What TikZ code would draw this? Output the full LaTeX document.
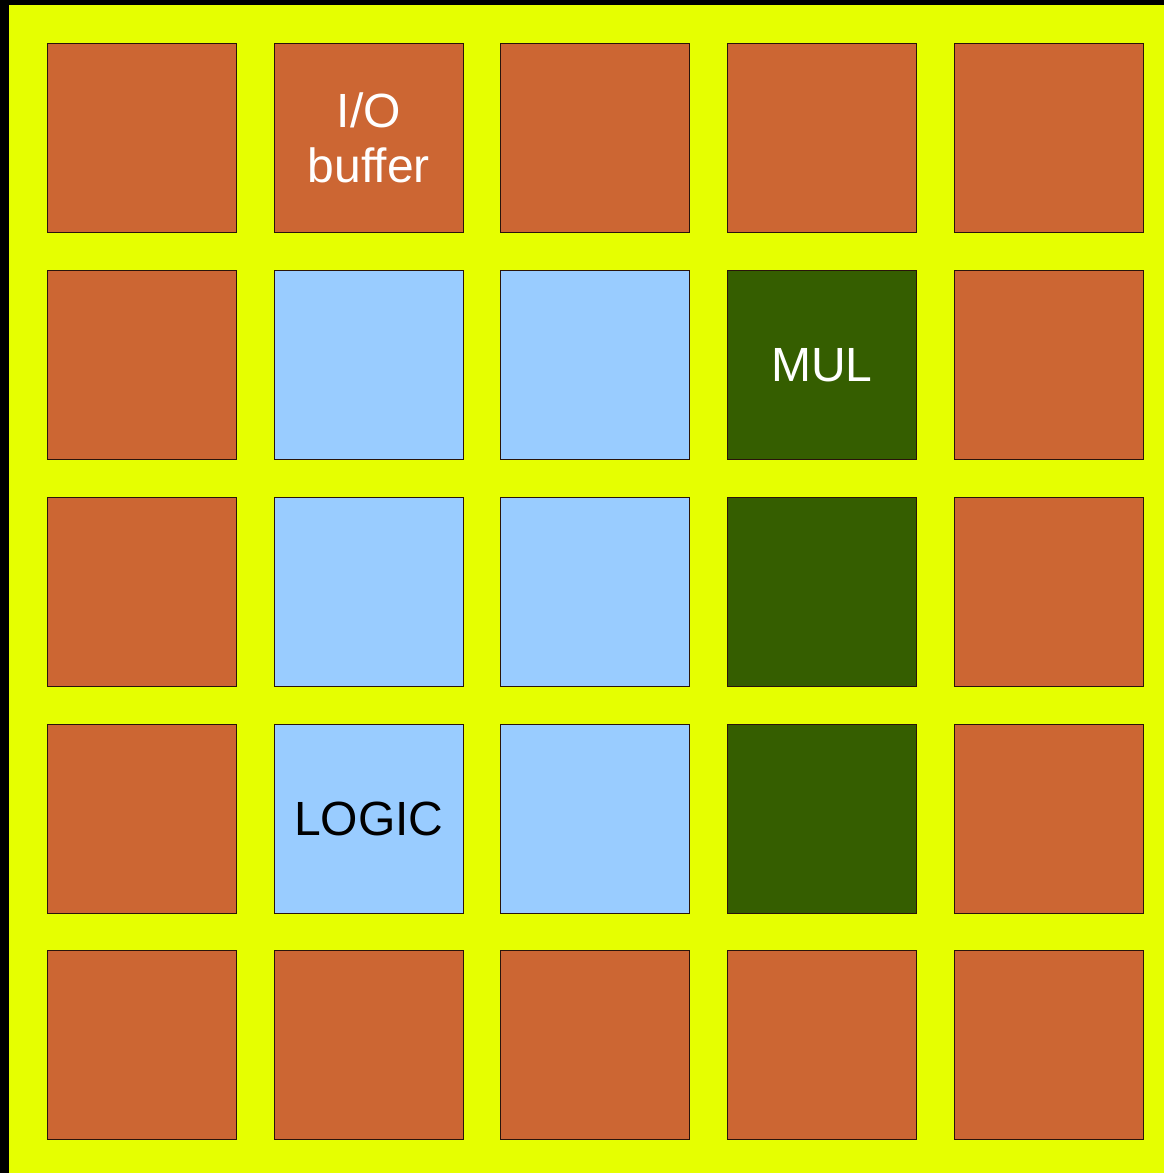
\documentclass[tikz,border=0pt]{standalone}
\usepackage{fontspec}
\setmainfont{Liberation Sans}
\definecolor{bgy}{HTML}{E6FF00}
\definecolor{org}{HTML}{CC6633}
\definecolor{lblue}{HTML}{99CCFF}
\definecolor{dgreen}{HTML}{355E00}
\begin{document}
\begin{tikzpicture}[x=1pt,y=-1pt,
  cell/.style={draw=black!80!org,line width=0.8pt,minimum size=189pt,inner sep=0pt,anchor=north west,font=\fontsize{48}{55}\selectfont,align=center},
  io/.style={cell,fill=org,text=white},
  lg/.style={cell,fill=lblue,text=black},
  ml/.style={cell,fill=dgreen,text=white}]
\useasboundingbox (0,0) rectangle (1164,1173);
\fill[black] (0,0) rectangle (1164,1173);
\fill[bgy] (9,5) rectangle (1164,1173);
% row 1
\node[io] (c11) at (47,43) {};
\node[io] (c12) at (274,43) {I/O\\buffer};
\node[io] (c13) at (500,43) {};
\node[io] (c14) at (727,43) {};
\node[io] (c15) at (954,43) {};
% row 2
\node[io] (c21) at (47,270) {};
\node[lg] (c22) at (274,270) {};
\node[lg] (c23) at (500,270) {};
\node[ml] (c24) at (727,270) {MUL};
\node[io] (c25) at (954,270) {};
% row 3
\node[io] (c31) at (47,497) {};
\node[lg] (c32) at (274,497) {};
\node[lg] (c33) at (500,497) {};
\node[ml] (c34) at (727,497) {};
\node[io] (c35) at (954,497) {};
% row 4
\node[io] (c41) at (47,724) {};
\node[lg] (c42) at (274,724) {LOGIC};
\node[lg] (c43) at (500,724) {};
\node[ml] (c44) at (727,724) {};
\node[io] (c45) at (954,724) {};
% row 5
\node[io] (c51) at (47,950) {};
\node[io] (c52) at (274,950) {};
\node[io] (c53) at (500,950) {};
\node[io] (c54) at (727,950) {};
\node[io] (c55) at (954,950) {};
\end{tikzpicture}
\end{document}
